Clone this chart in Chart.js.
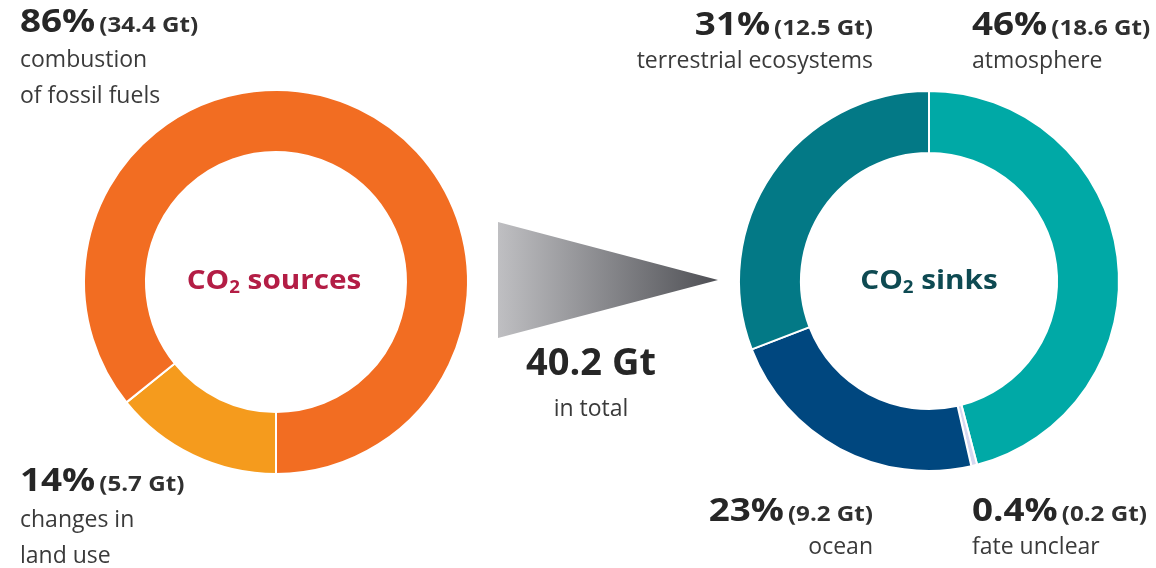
<!DOCTYPE html>
<html>
<head>
<meta charset="utf-8">
<script src="https://cdn.jsdelivr.net/npm/chart.js@4.4.0/dist/chart.umd.min.js"></script>
<style>
  html, body { margin: 0; padding: 0; background: #ffffff; }
  #wrap { position: relative; width: 1156px; height: 568px; overflow: hidden; }
  canvas { position: absolute; left: 0; top: 0; }
</style>
</head>
<body>
<div id="wrap">
  <canvas id="sources" width="1156" height="568"></canvas>
  <canvas id="sinks" width="1156" height="568"></canvas>
</div>
<script>
// ---- data ----
const sourceCategories = ['changes in land use', 'combustion of fossil fuels'];
const sourceValues = [5.7, 34.4];            // Gt
const sourcePercents = ['14%', '86%'];
const sourceDescLines = [['changes in', 'land use'], ['combustion', 'of fossil fuels']];
const sourceColors = ['#F59B1D', '#F26D22'];

const sinkCategories = ['atmosphere', 'fate unclear', 'ocean', 'terrestrial ecosystems'];
const sinkValues = [18.6, 0.2, 9.2, 12.5];   // Gt
const sinkPercents = ['46%', '0.4%', '23%', '31%'];
const sinkDescLines = [['atmosphere'], ['fate unclear'], ['ocean'], ['terrestrial ecosystems']];
const sinkColors = ['#00A9A6', '#D6D8F0', '#00477F', '#037986'];

const totalLabel = '40.2 Gt';
const totalSub = 'in total';
const sourcesTitle = ['CO', '2', ' sources'];
const sinksTitle = ['CO', '2', ' sinks'];

// ---- helpers ----
const FONT = '"Open Sans", "Noto Sans", sans-serif';
function drawRuns(ctx, x, y, runs, align) {
  const widths = runs.map(r => { ctx.font = r.font; return ctx.measureText(r.text).width * (r.sx || 1); });
  const total = widths.reduce((a, b) => a + b, 0) + runs.reduce((a, r) => a + (r.gap || 0), 0);
  let cx = align === 'right' ? x - total : (align === 'center' ? x - total / 2 : x);
  runs.forEach((r, i) => {
    cx += r.gap || 0;
    ctx.save();
    ctx.font = r.font;
    ctx.fillStyle = r.color;
    ctx.translate(cx, y + (r.dy || 0));
    ctx.scale(r.sx || 1, 1);
    ctx.fillText(r.text, 0, 0);
    ctx.restore();
    cx += widths[i];
  });
}
function labelBlock(ctx, x, baselines, pct, gt, lines, align) {
  ctx.textBaseline = 'alphabetic';
  ctx.textAlign = 'left';
  drawRuns(ctx, x, baselines[0], [
    { text: pct, font: 'bold 32px ' + FONT, color: '#262626', sx: 1.15 },
    { text: '(' + gt + ' Gt)', font: 'bold 21px ' + FONT, color: '#303030', gap: 4, sx: 1.15 }
  ], align);
  lines.forEach((ln, i) => {
    drawRuns(ctx, x, baselines[i + 1], [{ text: ln, font: '23px ' + FONT, color: '#3a3a3a' }], align);
  });
}
function titleRuns(parts, color) {
  return [
    { text: parts[0], font: 'bold 27px ' + FONT, color: color, sx: 1.1 },
    { text: parts[1], font: 'bold 17px ' + FONT, color: color, dy: 4, sx: 1.1 },
    { text: parts[2], font: 'bold 27px ' + FONT, color: color, sx: 1.1 }
  ];
}

const annotations = {
  id: 'annotations',
  afterDraw(chart) {
    const ctx = chart.ctx;
    ctx.save();
    ctx.textBaseline = 'alphabetic';
    ctx.textAlign = 'left';
    // arrow triangle
    const g = ctx.createLinearGradient(498, 0, 718, 0);
    g.addColorStop(0, '#BFBFC2');
    g.addColorStop(1, '#4E4F54');
    ctx.fillStyle = g;
    ctx.beginPath();
    ctx.moveTo(498, 222);
    ctx.lineTo(718, 280);
    ctx.lineTo(498, 338);
    ctx.closePath();
    ctx.fill();

    drawRuns(ctx, 591, 375, [{ text: totalLabel, font: 'bold 38px ' + FONT, color: '#262626' }], 'center');
    drawRuns(ctx, 591, 416, [{ text: totalSub, font: '23px ' + FONT, color: '#3a3a3a' }], 'center');

    drawRuns(ctx, 274, 289, titleRuns(sourcesTitle, '#B31D45'), 'center');
    drawRuns(ctx, 929, 289, titleRuns(sinksTitle, '#0E4A52'), 'center');

    // source labels
    labelBlock(ctx, 20, [32, 67, 103], sourcePercents[1], sourceValues[1], sourceDescLines[1], 'left');
    labelBlock(ctx, 20, [491, 527, 563], sourcePercents[0], sourceValues[0], sourceDescLines[0], 'left');
    // sink labels
    labelBlock(ctx, 873, [35, 68], sinkPercents[3], sinkValues[3], sinkDescLines[3], 'right');
    labelBlock(ctx, 972, [35, 68], sinkPercents[0], sinkValues[0], sinkDescLines[0], 'left');
    labelBlock(ctx, 873, [521, 554], sinkPercents[2], sinkValues[2], sinkDescLines[2], 'right');
    labelBlock(ctx, 972, [521, 554], sinkPercents[1], sinkValues[1], sinkDescLines[1], 'left');
    ctx.restore();
  }
};

function baseOptions(padding, cutout, rotation) {
  return {
    responsive: false,
    animation: false,
    events: [],
    rotation: rotation,
    cutout: cutout,
    layout: { padding: padding },
    plugins: { legend: { display: false }, tooltip: { enabled: false } }
  };
}

new Chart(document.getElementById('sources'), {
  type: 'doughnut',
  data: {
    labels: sourceCategories,
    datasets: [{
      data: sourceValues,
      backgroundColor: sourceColors,
      borderColor: '#ffffff',
      borderWidth: 2,
      hoverOffset: 0,
      offset: 0
    }]
  },
  options: baseOptions({ left: 83, right: 687, top: 89, bottom: 93 }, '67.7%', 180)
});

new Chart(document.getElementById('sinks'), {
  type: 'doughnut',
  data: {
    labels: sinkCategories,
    datasets: [{
      data: sinkValues,
      backgroundColor: sinkColors,
      borderColor: '#ffffff',
      borderWidth: 2,
      hoverOffset: 0,
      offset: 0
    }]
  },
  options: baseOptions({ left: 738, right: 36, top: 90, bottom: 96 }, '67.4%', 0),
  plugins: [annotations]
});
</script>
</body>
</html>
